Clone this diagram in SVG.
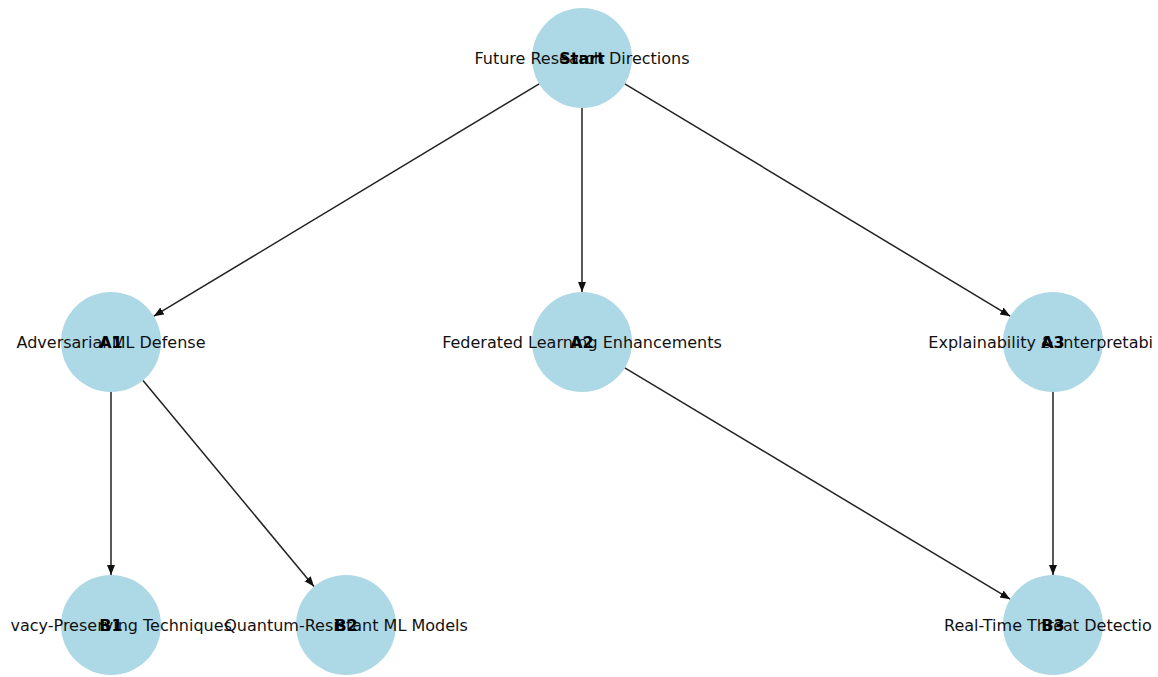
<svg xmlns="http://www.w3.org/2000/svg" width="1158" height="677" viewBox="0 0 1158 677">
<style>
.node circle{fill:#add8e6;}
.lbl{font-family:"DejaVu Sans",sans-serif;font-size:16px;fill:#111;text-anchor:middle;}
.id{font-family:"DejaVu Sans",sans-serif;font-size:16px;font-weight:bold;fill:#000;text-anchor:middle;}
.edge{stroke:#222;stroke-width:1.5;fill:none;marker-end:url(#arr);}
</style>
<defs>
<marker id="arr" markerUnits="userSpaceOnUse" markerWidth="12" markerHeight="10" refX="10" refY="4" orient="auto">
<path d="M0,0 L10,4 L0,8 Z" fill="#111"/>
</marker>
<clipPath id="clip"><rect x="11" y="0" width="1141" height="677"/></clipPath>
</defs>
<rect width="1158" height="677" fill="#fff"/>
<g id="connectors">
<line class="edge" x1="539.2" y1="83.8" x2="153.8" y2="316.2"/>
<line class="edge" x1="582" y1="108" x2="582" y2="292"/>
<line class="edge" x1="624.8" y1="83.8" x2="1010.2" y2="316.2"/>
<line class="edge" x1="111" y1="392" x2="111" y2="575"/>
<line class="edge" x1="143" y1="380.5" x2="314" y2="586.5"/>
<line class="edge" x1="624.8" y1="367.8" x2="1010.2" y2="599.2"/>
<line class="edge" x1="1053" y1="392" x2="1053" y2="575"/>
</g>
<g clip-path="url(#clip)">
<g id="Start" class="node"><circle cx="582" cy="58" r="50"/><text class="lbl" x="582" y="64">Future Research Directions</text><text class="id" x="582" y="64">Start</text></g>
<g id="A1" class="node"><circle cx="111" cy="342" r="50"/><text class="lbl" x="111" y="348">Adversarial ML Defense</text><text class="id" x="111" y="348">A1</text></g>
<g id="A2" class="node"><circle cx="582" cy="342" r="50"/><text class="lbl" x="582" y="348">Federated Learning Enhancements</text><text class="id" x="582" y="348">A2</text></g>
<g id="A3" class="node"><circle cx="1053" cy="342" r="50"/><text class="lbl" x="1053" y="348">Explainability &amp; Interpretability</text><text class="id" x="1053" y="348">A3</text></g>
<g id="B1" class="node"><circle cx="111" cy="625" r="50"/><text class="lbl" x="111" y="631">Privacy-Preserving Techniques</text><text class="id" x="111" y="631">B1</text></g>
<g id="B2" class="node"><circle cx="346" cy="625" r="50"/><text class="lbl" x="346" y="631">Quantum-Resistant ML Models</text><text class="id" x="346" y="631">B2</text></g>
<g id="B3" class="node"><circle cx="1053" cy="625" r="50"/><text class="lbl" x="1053" y="631">Real-Time Threat Detection</text><text class="id" x="1053" y="631">B3</text></g>
</g>
</svg>
